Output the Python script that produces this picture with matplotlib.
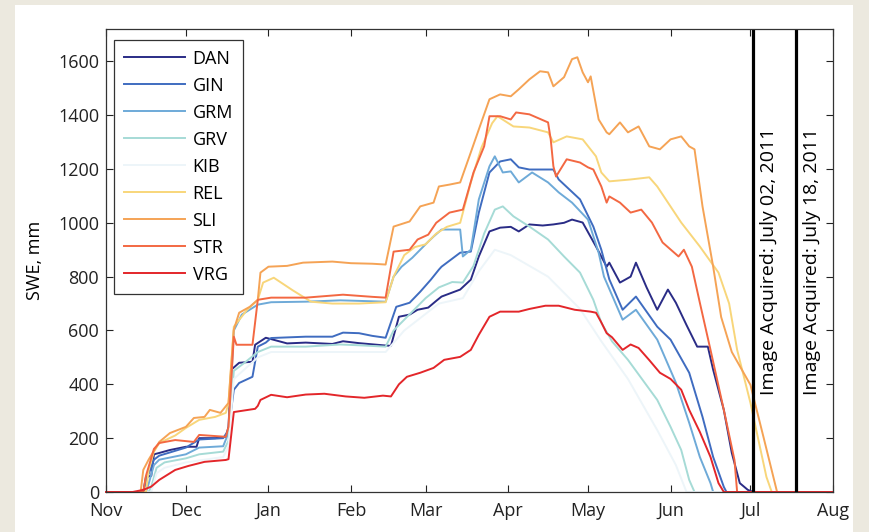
import matplotlib.pyplot as plt
import matplotlib.dates as mdates
import matplotlib.patches as patches
import pandas as pd

plt.rcParams['font.family'] = ['Open Sans', 'DejaVu Sans']

# days counted from 1 Nov 2010, SWE in mm
start = pd.Timestamp('2010-11-01')

dan_days = [0, 14, 15, 17, 18, 20, 24, 30, 34, 35, 41, 45, 46, 47, 50, 55, 56, 60, 62, 68, 75, 85, 89, 95, 104, 107,
            110, 114, 117, 121, 124, 126, 133, 137, 140, 144, 148, 152, 155, 159, 164, 168, 172, 175, 179, 184, 188,
            189, 193, 197, 199, 203, 207, 211, 214, 218, 222, 226, 228, 232, 235, 238, 241, 243, 273]
dan_swe = [0, 0, 56, 60, 140, 145, 156, 168, 168, 200, 200, 205, 242, 454, 480, 484, 547, 573, 568, 552, 555, 550,
           560, 553, 545, 543, 651, 659, 677, 685, 710, 726, 752, 789, 875, 968, 982, 985, 968, 994, 990, 994, 1000,
           1012, 1001, 912, 837, 852, 778, 800, 852, 760, 677, 752, 703, 620, 540, 540, 454, 305, 145, 33, 8, 0, 0]

gin_days = [0, 14, 15, 18, 20, 30, 35, 44, 46, 48, 50, 55, 57, 60, 62, 75, 85, 89, 95, 100, 105, 109, 114, 118, 122,
            125, 126, 133, 137, 140, 144, 148, 152, 155, 159, 168, 170, 178, 183, 186, 189, 194, 199, 207, 212, 219,
            224, 228, 232, 233, 273]
gin_swe = [0, 0, 40, 120, 135, 165, 195, 200, 230, 380, 405, 428, 540, 555, 572, 577, 577, 592, 590, 580, 573, 688,
           703, 744, 789, 826, 837, 889, 893, 1038, 1187, 1228, 1236, 1206, 1198, 1198, 1161, 1087, 986, 900, 790,
           677, 726, 614, 566, 443, 279, 130, 19, 0, 0]

grm_days = [0, 15, 16, 18, 20, 30, 35, 44, 46, 48, 51, 57, 62, 75, 88, 95, 105, 108, 111, 115, 118, 121, 123, 126,
            133, 134, 137, 140, 144, 146, 149, 152, 155, 160, 166, 170, 175, 181, 185, 187, 194, 199, 207, 214, 219,
            223, 227, 228, 273]
grm_swe = [0, 0, 30, 100, 120, 140, 165, 170, 220, 600, 659, 696, 705, 707, 712, 710, 707, 800, 837, 870, 900, 930,
           949, 975, 975, 875, 900, 1087, 1210, 1247, 1187, 1191, 1150, 1187, 1150, 1113, 1075, 1012, 889, 800, 640,
           677, 566, 406, 257, 130, 33, 0, 0]

grv_days = [0, 16, 17, 19, 22, 30, 35, 44, 46, 48, 52, 57, 62, 75, 88, 95, 105, 108, 112, 116, 120, 125, 130, 134,
            138, 142, 146, 149, 153, 159, 166, 172, 178, 183, 186, 190, 196, 207, 212, 216, 219, 221, 273]
grv_swe = [0, 0, 20, 90, 110, 125, 140, 150, 190, 450, 480, 520, 540, 540, 548, 545, 540, 600, 640, 680, 720, 760,
           780, 778, 840, 960, 1049, 1061, 1024, 986, 938, 875, 815, 714, 629, 560, 491, 342, 242, 156, 45, 0, 0]

kib_days = [0, 17, 19, 22, 30, 44, 46, 48, 57, 62, 105, 112, 125, 134, 140, 146, 152, 166, 178, 186, 196, 207, 214,
            218, 273]
kib_swe = [0, 0, 70, 90, 110, 130, 170, 420, 500, 520, 520, 600, 700, 720, 820, 900, 880, 800, 680, 560, 420, 230,
           100, 0, 0]

rel_days = [0, 15, 16, 18, 20, 26, 30, 35, 41, 45, 46, 48, 53, 57, 59, 63, 70, 77, 85, 95, 105, 108, 112, 116, 120,
            124, 128, 133, 137, 141, 145, 147, 153, 159, 166, 168, 173, 179, 184, 186, 189, 197, 204, 207, 216, 223,
            230, 234, 237, 242, 245, 248, 250, 273]
rel_swe = [0, 0, 80, 150, 182, 210, 238, 268, 279, 294, 330, 614, 677, 714, 778, 796, 750, 707, 700, 700, 705, 800,
           880, 910, 920, 960, 985, 1000, 1150, 1280, 1370, 1396, 1358, 1354, 1336, 1299, 1321, 1310, 1247, 1187,
           1154, 1161, 1169, 1135, 1001, 912, 815, 700, 528, 331, 193, 56, 0, 0]

sli_days = [0, 13, 14, 16, 20, 24, 30, 33, 37, 39, 43, 46, 48, 50, 54, 57, 58, 61, 68, 74, 85, 92, 100, 105, 108,
            114, 118, 123, 125, 129, 133, 137, 140, 144, 148, 152, 155, 159, 163, 166, 168, 172, 175, 177, 179, 181,
            182, 185, 188, 189, 193, 196, 200, 204, 208, 212, 216, 219, 221, 224, 228, 231, 235, 242, 247, 252, 273]
sli_swe = [0, 0, 82, 120, 186, 219, 242, 275, 279, 305, 294, 331, 603, 666, 688, 714, 815, 837, 840, 852, 856, 850,
           848, 845, 986, 1005, 1061, 1075, 1135, 1142, 1150, 1262, 1347, 1459, 1477, 1470, 1496, 1533, 1563, 1559,
           1507, 1541, 1608, 1615, 1559, 1522, 1544, 1384, 1336, 1329, 1373, 1336, 1358, 1284, 1273, 1310, 1321,
           1284, 1273, 1061, 837, 650, 520, 398, 200, 0, 0]

str_days = [0, 14, 15, 18, 20, 26, 33, 35, 45, 46, 48, 49, 55, 57, 62, 75, 89, 100, 105, 108, 114, 117, 121, 124,
            129, 134, 138, 142, 144, 148, 152, 154, 159, 166, 167, 168, 169, 173, 178, 181, 183, 186, 188, 189, 193,
            197, 201, 205, 209, 215, 217, 220, 223, 227, 232, 236, 237, 273]
str_swe = [0, 0, 60, 160, 182, 193, 186, 212, 205, 242, 577, 547, 547, 714, 722, 722, 733, 725, 722, 893, 900, 938,
           956, 1000, 1038, 1049, 1187, 1284, 1396, 1396, 1384, 1410, 1403, 1373, 1310, 1210, 1172, 1236, 1224,
           1206, 1198, 1135, 1075, 1098, 1075, 1038, 1049, 1001, 927, 875, 900, 837, 703, 528, 305, 119, 0, 0]

vrg_days = [0, 10, 14, 17, 20, 26, 31, 37, 45, 46, 48, 56, 57, 58, 62, 68, 75, 82, 90, 97, 104, 107, 110, 113, 118,
            123, 127, 133, 137, 140, 144, 148, 152, 155, 159, 165, 170, 176, 182, 184, 186, 188, 190, 194, 197, 200,
            204, 208, 212, 216, 219, 223, 227, 230, 232, 273]
vrg_swe = [0, 0, 8, 20, 45, 82, 97, 112, 119, 122, 297, 309, 320, 342, 361, 352, 362, 365, 355, 350, 358, 355, 400,
           428, 443, 461, 491, 502, 528, 584, 651, 670, 670, 670, 680, 692, 692, 677, 670, 666, 630, 590, 575, 528,
           548, 535, 490, 443, 420, 380, 305, 223, 130, 33, 0, 0]

sites = ['DAN', 'GIN', 'GRM', 'GRV', 'KIB', 'REL', 'SLI', 'STR', 'VRG']
site_days = [dan_days, gin_days, grm_days, grv_days, kib_days, rel_days, sli_days, str_days, vrg_days]
site_swe = [dan_swe, gin_swe, grm_swe, grv_swe, kib_swe, rel_swe, sli_swe, str_swe, vrg_swe]
colors = ['#2a2c86', '#3f6cc0', '#6eaad8', '#a6dbd6', '#edf5f9', '#f8d67a', '#f5a355', '#f36842', '#e3262a']

image_dates = ['2011-07-02', '2011-07-18']
image_labels = ['Image Acquired: July 02, 2011', 'Image Acquired: July 18, 2011']

fig = plt.figure(figsize=(8.69, 5.32), dpi=100, facecolor='#ece9df')
fig.patches.append(patches.Rectangle((15 / 869, 0), 838 / 869, 527 / 532, transform=fig.transFigure,
                                     facecolor='white', edgecolor='none', zorder=-10))
ax = fig.add_axes([106 / 869, 40 / 532, 727 / 869, 463 / 532])

for name, d, v, c in zip(sites, site_days, site_swe, colors):
    x = start + pd.to_timedelta(d, unit='D')
    ax.plot(x, v, color=c, lw=1.4, label=name, clip_on=False)

for dt, txt in zip(image_dates, image_labels):
    t = pd.Timestamp(dt)
    ax.axvline(t, color='black', lw=2.3)
    ax.text(t + pd.Timedelta(days=6), 362, txt, rotation=90, ha='center', va='bottom', fontsize=14)

ax.set_xlim(start, pd.Timestamp('2011-08-01'))
ax.set_ylim(0, 1720)
ax.set_yticks(range(0, 1601, 200))
ax.xaxis.set_major_locator(mdates.MonthLocator())
ax.xaxis.set_major_formatter(mdates.DateFormatter('%b'))
ax.tick_params(direction='in', top=True, right=True, length=5, labelsize=13, colors='#222222', pad=5)
ax.tick_params(axis='x', pad=7)
ax.set_ylabel('SWE, mm', fontsize=13, labelpad=10)
for s in ax.spines.values():
    s.set_color('#333333')
    s.set_linewidth(0.9)

leg = ax.legend(loc='upper left', bbox_to_anchor=(0.011, 0.977), borderaxespad=0, fontsize=13, handlelength=3.4,
                labelspacing=0.5, handletextpad=0.4, borderpad=0.55, fancybox=False, framealpha=1)
leg.get_frame().set_edgecolor('#333333')
leg.get_frame().set_linewidth(0.9)

fig.savefig('out.png', dpi=100, facecolor=fig.get_facecolor())
